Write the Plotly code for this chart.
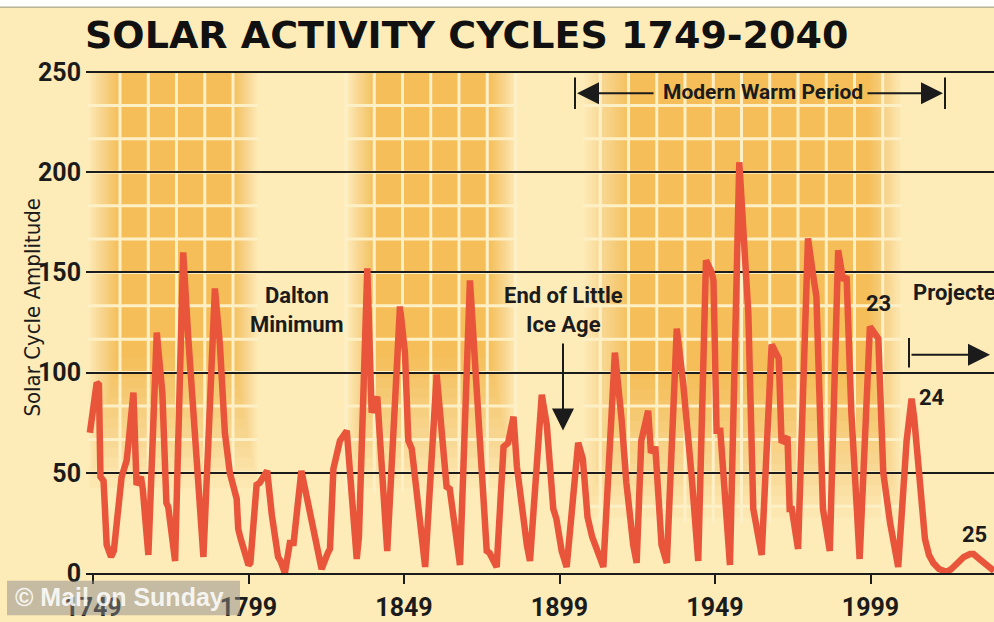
import plotly.graph_objects as go

# ---------------- data ----------------
years = [1748.0, 1750.2, 1750.9, 1751.4, 1752.4, 1753.4, 1754.8, 1755.7, 1758.2, 1759.8,
         1760.3, 1762.0, 1763.0, 1764.4, 1765.0, 1766.8, 1769.5, 1770.6, 1771.3, 1772.6,
         1773.2, 1775.4, 1778.0, 1779.6, 1781.8, 1784.5, 1788.2, 1789.8, 1791.4, 1793.0,
         1795.2, 1795.7, 1796.5, 1799.0, 1799.6, 1801.6, 1802.6, 1805.0, 1806.5, 1808.5,
         1809.3, 1810.7, 1812.3, 1813.5, 1816.0, 1817.7, 1819.9, 1822.5, 1824.5, 1825.2,
         1826.3, 1828.4, 1830.6, 1832.2, 1833.8, 1834.5, 1837.2, 1838.6, 1840.4, 1843.6,
         1847.7, 1849.3, 1850.4, 1851.5, 1855.8, 1859.5, 1862.7, 1863.7, 1867.0, 1870.2,
         1872.0, 1874.0, 1875.6, 1876.5, 1878.8, 1881.0, 1882.5, 1884.2, 1885.3, 1888.5,
         1889.5, 1893.3, 1894.9, 1897.0, 1898.0, 1899.7, 1901.3, 1905.0, 1906.5, 1908.0,
         1909.5, 1913.1, 1914.7, 1916.8, 1919.0, 1920.5, 1922.7, 1923.8, 1925.3, 1927.5,
         1928.4, 1929.8, 1931.8, 1933.5, 1936.7, 1938.8, 1941.5, 1943.6, 1946.1, 1947.9,
         1948.5, 1949.5, 1950.7, 1953.8, 1956.8, 1959.7, 1961.3, 1964.0, 1967.2, 1968.5,
         1969.5, 1970.4, 1972.3, 1973.0, 1973.7, 1975.7, 1978.9, 1980.5, 1981.6, 1983.7,
         1985.9, 1988.6, 1990.2, 1991.3, 1992.8, 1995.5, 1998.8, 2001.5, 2003.1, 2005.3,
         2007.9, 2010.6, 2011.6, 2012.2, 2013.0, 2014.4, 2015.5, 2016.5, 2017.8, 2019.2,
         2021.0, 2023.5, 2025.0, 2026.7, 2029.0, 2031.0, 2032.1, 2034.0, 2036.4, 2038.7]

amplitude = [70, 95, 94, 48, 46, 14, 8, 11, 48, 56,
             63, 90, 44, 48, 42, 9, 120, 95, 90, 35,
             33, 6, 160, 118, 66, 8, 142, 114, 70, 50,
             37, 22, 17, 4, 5, 44, 45, 51, 29, 8,
             6, 0, 15, 15, 51, 39, 24, 2, 10, 12,
             52, 66, 71, 37, 7, 18, 152, 80, 88, 11,
             133, 110, 66, 62, 3, 99, 43, 42, 4, 146,
             100, 45, 11, 10, 3, 63, 65, 78, 53, 14,
             6, 89, 74, 32, 27, 11, 3, 65, 57, 28,
             18, 3, 55, 110, 76, 45, 14, 5, 66, 81,
             60, 63, 14, 5, 122, 94, 48, 6, 156, 150,
             146, 71, 71, 4, 205, 130, 32, 9, 114, 109,
             107, 65, 68, 32, 32, 12, 167, 149, 138, 32,
             11, 161, 146, 148, 81, 7, 123, 117, 50, 25,
             3, 66, 82, 87, 78, 56, 33, 17, 9, 5,
             2, 0.5, 2, 5, 8, 9.5, 9.5, 7, 3.5, 1]

y_ticks = [0, 50, 100, 150, 200, 250]
x_ticks = [1749, 1799, 1849, 1899, 1949, 1999]
x_tick_labels = ["1749", "1799", "1849", "1899", "1949", "1999"]

# ---------------- layout geometry ----------------
W, H = 994, 622
ML, MR, MT, MB = 86, 0, 52, 40
X_RANGE = [1746.75, 2038.7]
Y_RANGE = [0, 260]


def px2x(px):
    return X_RANGE[0] + (px - ML) / (W - ML - MR) * (X_RANGE[1] - X_RANGE[0])


def py2y(py):
    return Y_RANGE[0] + (H - MB - py) / (H - MT - MB) * (Y_RANGE[1] - Y_RANGE[0])


def px2paper(px):
    return (px - ML) / (W - ML - MR)


def py2paper(py):
    return (H - MB - py) / (H - MT - MB)


BG = "#FDEBB8"
ORANGE = "#F6BE58"
CELL_LINE = "#FEF0C6"
INK = "#1b1b1b"
RED = "#E8553A"
LABEL_FONT = "Roboto, DejaVu Sans Condensed, sans-serif"
AXIS_TITLE_FONT = "DejaVu Sans Condensed, Roboto, sans-serif"

# highlight bands: (outer left px, inner left px, inner right px, outer right px, full value, zero value)
bands = [
    (88, 120, 232, 258, 110, 40),
    (347, 376, 488, 516, 110, 40),
    (583, 633, 868, 902, 100, 25),
]

shapes = []
N = 14
for (ol, il, ir, orr, yf, yz) in bands:
    x_ol, x_il, x_ir, x_or = px2x(ol), px2x(il), px2x(ir), px2x(orr)
    for i in range(1, N + 1):
        f = (i - 0.5) / N
        shapes.append(dict(
            type="rect", layer="below", xref="x", yref="y",
            x0=x_ol + (x_il - x_ol) * f, x1=x_or - (x_or - x_ir) * f,
            y0=yz + (yf - yz) * f, y1=250,
            fillcolor=ORANGE, opacity=1.0 / (N - i + 1), line=dict(width=0)))
    k = 1
    while 250 - k * 50 / 3 > yz:
        v = 250 - k * 50 / 3
        shapes.append(dict(type="line", layer="below", xref="x", yref="y",
                           x0=x_ol, x1=x_or, y0=v, y1=v,
                           line=dict(color=CELL_LINE, width=3)))
        k += 1
    for kk in range(0, 40):
        cx = 120 + 28.25 * kk
        if ol - 2 <= cx <= orr + 2:
            shapes.append(dict(type="line", layer="below", xref="x", yref="y",
                               x0=px2x(cx), x1=px2x(cx), y0=yz, y1=250,
                               line=dict(color=CELL_LINE, width=3)))

# top white strip and border
shapes.append(dict(type="rect", xref="paper", yref="paper", layer="above",
                   x0=px2paper(-5), x1=px2paper(W + 5), y0=py2paper(6), y1=py2paper(-2),
                   fillcolor="#FFFFFF", line=dict(width=0)))
shapes.append(dict(type="line", xref="paper", yref="paper", layer="above",
                   x0=px2paper(0), x1=px2paper(W), y0=py2paper(6.5), y1=py2paper(6.5),
                   line=dict(color="#B8B49A", width=1.5)))

for bx in (575, 945):
    shapes.append(dict(type="line", xref="x", yref="y", layer="above",
                       x0=px2x(bx), x1=px2x(bx), y0=py2y(78), y1=py2y(110),
                       line=dict(color=INK, width=2)))
shapes.append(dict(type="line", xref="x", yref="y", layer="above",
                   x0=px2x(909), x1=px2x(909), y0=py2y(343), y1=py2y(373),
                   line=dict(color=INK, width=2)))
shapes.append(dict(type="rect", xref="paper", yref="paper", layer="above",
                   x0=px2paper(7), x1=px2paper(240), y0=py2paper(625), y1=py2paper(590),
                   fillcolor="rgba(140,140,140,0.5)", line=dict(width=0)))


def arrow(x_tip, y_tip, x_tail, y_tail):
    return dict(x=px2x(x_tip), y=py2y(y_tip), ax=px2x(x_tail), ay=py2y(y_tail),
                xref="x", yref="y", axref="x", ayref="y", text="", showarrow=True,
                arrowhead=2, arrowsize=2.2, arrowwidth=2, arrowcolor=INK)


def label(text, px, py, size=22, anchor="center", color=INK, family=LABEL_FONT, weight="bold"):
    return dict(x=px2x(px), y=py2y(py), xref="x", yref="y", text=text, showarrow=False,
                xanchor=anchor, yanchor="middle",
                font=dict(family=family, size=size, color=color, weight=weight))


annotations = [
    dict(x=px2paper(83), y=py2paper(35), xref="paper", yref="paper",
         text="SOLAR ACTIVITY CYCLES 1749-2040", showarrow=False,
         xanchor="left", yanchor="middle",
         font=dict(family="DejaVu Sans", size=38, color="#111111", weight="bold")),
    dict(x=px2paper(33), y=py2paper(312), xref="paper", yref="paper",
         text="Solar Cycle Amplitude", showarrow=False, textangle=-90,
         xanchor="center", yanchor="middle",
         font=dict(family=AXIS_TITLE_FONT, size=22, color=INK)),
    label("Dalton<br>Minimum", 297, 314),
    label("End of Little<br>Ice Age", 563, 314),
    label("Modern Warm Period", 763, 93, size=21),
    label("23", 878, 308),
    label("24", 932, 403),
    label("25", 974, 543),
    label("Projected", 911, 297, anchor="left"),
    arrow(577, 94, 655, 94),
    arrow(943, 94, 866, 94),
    arrow(563, 437, 563, 347),
    arrow(990, 360, 910, 360),
    dict(x=px2paper(13), y=py2paper(606), xref="paper", yref="paper",
         text="© Mail on Sunday", showarrow=False, xanchor="left", yanchor="middle",
         font=dict(family="Liberation Sans", size=25, color="rgba(255,255,255,0.85)",
                   weight="bold")),
]

fig = go.Figure()
fig.add_trace(go.Scatter(
    x=years, y=amplitude, mode="lines",
    line=dict(color=RED, width=6.5), hoverinfo="skip", showlegend=False))

fig.update_layout(
    width=W, height=H,
    margin=dict(l=ML, r=MR, t=MT, b=MB, pad=0),
    paper_bgcolor=BG, plot_bgcolor=BG,
    shapes=shapes, annotations=annotations,
    showlegend=False,
    xaxis=dict(range=X_RANGE, tickvals=x_ticks, ticktext=x_tick_labels,
               showgrid=False, zeroline=False, showline=True, linecolor=INK, linewidth=2,
               ticks="outside", ticklen=9, tickwidth=2, tickcolor=INK,
               ticklabelstandoff=2,
               tickfont=dict(family=LABEL_FONT, size=25, color=INK, weight="bold")),
    yaxis=dict(range=Y_RANGE, tickvals=y_ticks, ticktext=[str(v) for v in y_ticks],
               showgrid=True, gridcolor=INK, gridwidth=2, zeroline=False,
               showline=False, ticks="", ticklabelstandoff=4,
               tickfont=dict(family=LABEL_FONT, size=25, color=INK, weight="bold")),
)

fig.write_html("out.html", config={"displayModeBar": False},
               post_script="document.body.style.margin='0';document.body.style.overflow='hidden';")
